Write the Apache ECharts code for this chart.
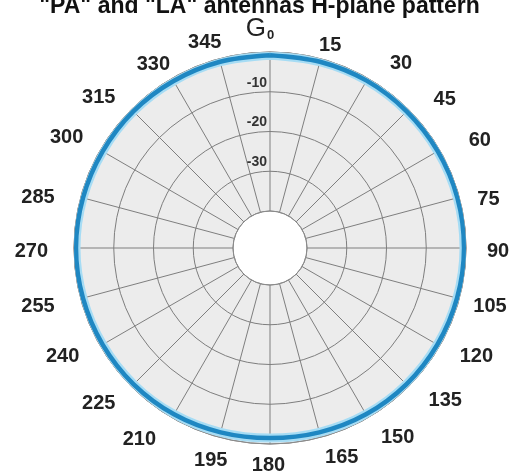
<!DOCTYPE html>
<html>
<head>
<meta charset="utf-8">
<script src="https://cdn.jsdelivr.net/npm/echarts@6/dist/echarts.min.js"></script>
<style>
html,body{margin:0;padding:0;background:#fff;}
#chart{width:519px;height:475px;}
</style>
</head>
<body>
<div id="chart"></div>
<script>
// Data
const titleText = '"PA" and "LA" antennas H-plane pattern';
const angles = [0,15,30,45,60,75,90,105,120,135,150,165,180,195,210,225,240,255,270,285,300,315,330,345,360];
const gainDb = [-0.8,-0.8,-0.7,-0.7,-0.6,-0.5,-0.5,-0.6,-0.7,-0.8,-1.0,-1.3,-1.5,-1.3,-1.0,-0.8,-0.7,-0.6,-0.5,-0.6,-0.7,-0.7,-0.8,-0.8,-0.8];
const radiusTicks = [-40,-30,-20,-10,0];
const angleTickStep = 15;

// Label nudges (padding [top,right,bottom,left]) to match the reference label placement
const labelNudge = {
  15:[0,0,3,19], 30:[0,0,5,22], 45:[0,0,0,25], 60:[0,0,0,29], 75:[4,0,0,18],
  90:[6,0,0,21], 105:[15,0,0,14], 120:[0,0,0,20], 135:[4,0,0,20], 150:[10,0,0,13],
  165:[10,0,0,42], 180:[11,3,0,0], 195:[13,17,0,0], 210:[12,16,0,0], 225:[7,16,0,0],
  240:[0,21,0,0], 255:[16,26,0,0], 270:[6,26,0,0], 285:[0,26,0,0], 300:[0,17,3,0],
  315:[0,16,2,0], 330:[0,2,4,0], 345:[0,29,6,0]
};

const seriesData = angles.map((a,i)=>[gainDb[i], a]);
const FONT = '"Liberation Sans", Arial, sans-serif';
const GRID = '#7e7e7e';

const labelRich = {
  g:{fontFamily:FONT,fontSize:26,fontWeight:'normal',color:'#222',padding:[0,0,10,0]},
  s:{fontFamily:FONT,fontSize:13,fontWeight:'bold',color:'#222',padding:[12,20,10,1]}
};
Object.keys(labelNudge).forEach(function(k){
  labelRich['p'+k] = {fontFamily:FONT,fontSize:20,fontWeight:'bold',color:'#222',padding:labelNudge[k]};
});

const chart = echarts.init(document.getElementById('chart'), null, {renderer:'canvas'});
const polarGeom = {center:[270,248],radius:[37,196]};
chart.setOption({
  animation:false,
  backgroundColor:'#ffffff',
  title:{
    text:titleText,
    left:'center',
    top:-5,
    padding:0,
    textStyle:{fontFamily:FONT,fontSize:23,fontWeight:'bold',color:'#111'}
  },
  polar:[polarGeom, polarGeom],
  angleAxis:[
    {
      polarIndex:0,type:'value',min:0,max:360,interval:angleTickStep,
      startAngle:90,clockwise:true,z:0,
      axisLine:{show:false},axisTick:{show:false},axisLabel:{show:false},
      splitLine:{show:false},
      splitArea:{show:true,areaStyle:{color:['#ececec','#ececec']}}
    },
    {
      polarIndex:1,type:'value',min:0,max:360,interval:angleTickStep,
      startAngle:90,clockwise:true,z:2,
      axisLine:{show:true,lineStyle:{color:'#8c8c8c',width:1}},
      axisTick:{show:false},
      splitLine:{show:true,lineStyle:{color:GRID,width:1,type:'solid'}},
      splitArea:{show:false},
      axisLabel:{
        margin:0,
        fontFamily:FONT,fontSize:20,fontWeight:'bold',color:'#222',
        formatter:function(v){ return v===0 ? '{g|G}{s|0}' : '{p'+v+'|'+v+'}'; },
        rich:labelRich
      }
    }
  ],
  radiusAxis:[
    {
      polarIndex:0,type:'value',min:radiusTicks[0],max:radiusTicks[radiusTicks.length-1],interval:10,
      z:0,axisLine:{show:false},axisTick:{show:false},axisLabel:{show:false},splitLine:{show:false}
    },
    {
      polarIndex:1,type:'value',min:radiusTicks[0],max:radiusTicks[radiusTicks.length-1],interval:10,
      z:2,
      axisLine:{show:false},
      axisTick:{show:false},
      splitLine:{show:true,lineStyle:{color:GRID,width:1,type:'solid'}},
      axisLabel:{
        showMinLabel:false,showMaxLabel:false,
        margin:3,
        verticalAlign:'bottom',
        padding:[0,0,2,0],
        fontFamily:FONT,fontSize:14,fontWeight:'bold',color:'#333'
      }
    }
  ],
  series:[
    {type:'line',coordinateSystem:'polar',polarIndex:1,data:seriesData,symbol:'none',smooth:0.33,
     lineStyle:{color:'#a6dcf4',width:9},silent:true,z:3},
    {type:'line',coordinateSystem:'polar',polarIndex:1,data:seriesData,symbol:'none',smooth:0.33,
     lineStyle:{color:'#1f87c2',width:4.5},silent:true,z:4}
  ]
});
</script>
</body>
</html>
